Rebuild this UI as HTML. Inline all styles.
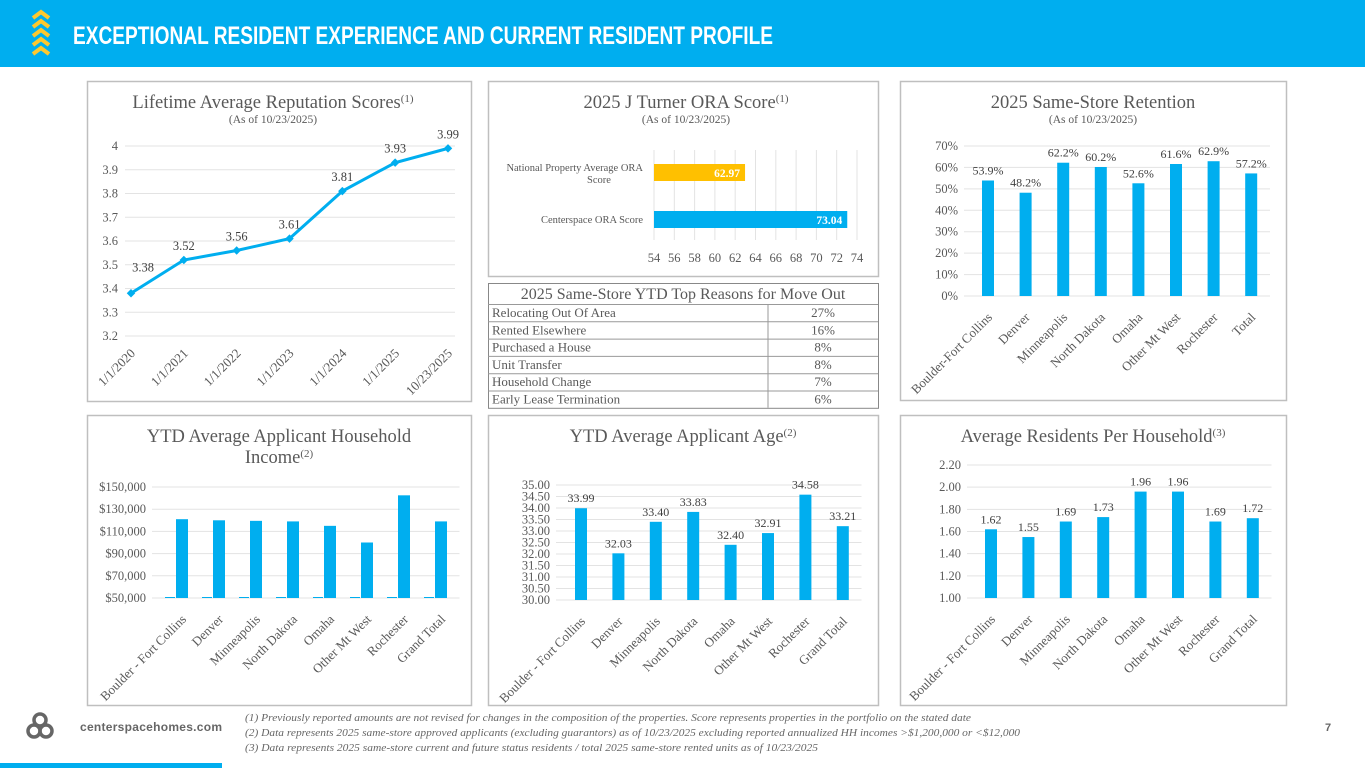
<!DOCTYPE html>
<html><head><meta charset="utf-8">
<style>
body{margin:0;width:1365px;height:768px;overflow:hidden;background:#fff;font-family:"Liberation Serif",serif;}
svg{position:absolute;left:0;top:0}
</style></head>
<body>
<svg id="s" width="1365" height="768" xmlns="http://www.w3.org/2000/svg" font-family="Liberation Serif, serif">
<rect x="0" y="0" width="1365" height="67" fill="#00AEEF"/>
<g fill="none" stroke="#FDC82F" stroke-width="4">
<polyline points="33,18 41,12 49,18"/><polyline points="33,27 41,21 49,27"/><polyline points="33,36 41,30 49,36"/><polyline points="33,45 41,39 49,45"/><polyline points="33,54 41,48 49,54"/>
</g>
<text x="73" y="44" fill="#fff" font-family="Liberation Sans, sans-serif" font-weight="bold" font-size="25" textLength="700" lengthAdjust="spacingAndGlyphs">EXCEPTIONAL RESIDENT EXPERIENCE AND CURRENT RESIDENT PROFILE</text>
<g id="panels"></g>
<g fill="none" stroke="#666" stroke-width="3.5">
<circle cx="40" cy="720" r="6"/><circle cx="34" cy="731" r="6"/><circle cx="46" cy="731" r="6"/>
</g>
<text x="80" y="731" font-family="Liberation Sans, sans-serif" font-weight="bold" font-size="12" fill="#666" textLength="142" lengthAdjust="spacing">centerspacehomes.com</text>
<g font-style="italic" font-size="10.5" fill="#666">
<text x="245" y="721" textLength="726" lengthAdjust="spacingAndGlyphs">(1) Previously reported amounts are not revised for changes in the composition of the properties. Score represents properties in the portfolio on the stated date</text>
<text x="245" y="736" textLength="775" lengthAdjust="spacingAndGlyphs">(2) Data represents 2025 same-store approved applicants (excluding guarantors) as of 10/23/2025 excluding reported annualized HH incomes &gt;$1,200,000 or &lt;$12,000</text>
<text x="245" y="751" textLength="573" lengthAdjust="spacingAndGlyphs">(3) Data represents 2025 same-store current and future status residents / total 2025 same-store rented units as of 10/23/2025</text>
</g>
<text x="1325" y="731" font-family="Liberation Sans, sans-serif" font-size="11" font-weight="bold" fill="#666">7</text>
<rect x="0" y="763" width="222" height="5" fill="#00AEEF"/>
</svg>
<script>
// ---- data ----
const repDates=["1/1/2020","1/1/2021","1/1/2022","1/1/2023","1/1/2024","1/1/2025","10/23/2025"];
const repScores=[3.38,3.52,3.56,3.61,3.81,3.93,3.99];
const repTicks=[3.2,3.3,3.4,3.5,3.6,3.7,3.8,3.9,4];
const oraCats=["National Property Average ORA Score","Centerspace ORA Score"];
const oraVals=[62.97,73.04];
const oraTicks=[54,56,58,60,62,64,66,68,70,72,74];
const retCats=["Boulder-Fort Collins","Denver","Minneapolis","North Dakota","Omaha","Other Mt West","Rochester","Total"];
const retVals=[53.9,48.2,62.2,60.2,52.6,61.6,62.9,57.2];
const retTicks=[0,10,20,30,40,50,60,70];
const incCats=["Boulder - Fort Collins","Denver","Minneapolis","North Dakota","Omaha","Other Mt West","Rochester","Grand Total"];
const incVals=[121000,120000,119500,119000,115000,100000,142500,119000];
const incTicks=[50000,70000,90000,110000,130000,150000];
const ageCats=["Boulder - Fort Collins","Denver","Minneapolis","North Dakota","Omaha","Other Mt West","Rochester","Grand Total"];
const ageVals=[33.99,32.03,33.40,33.83,32.40,32.91,34.58,33.21];
const ageTicks=[30,30.5,31,31.5,32,32.5,33,33.5,34,34.5,35];
const resCats=["Boulder - Fort Collins","Denver","Minneapolis","North Dakota","Omaha","Other Mt West","Rochester","Grand Total"];
const resVals=[1.62,1.55,1.69,1.73,1.96,1.96,1.69,1.72];
const resTicks=[1.0,1.2,1.4,1.6,1.8,2.0,2.2];
const moveReasons=["Relocating Out Of Area","Rented Elsewhere","Purchased a House","Unit Transfer","Household Change","Early Lease Termination"];
const movePcts=["27%","16%","8%","8%","7%","6%"];

const NS="http://www.w3.org/2000/svg";
const root=document.getElementById('panels');
function el(tag,attrs,parent,txt){const e=document.createElementNS(NS,tag);for(const k in attrs)e.setAttribute(k,attrs[k]);if(txt!==undefined)e.textContent=txt;(parent||root).appendChild(e);return e;}
const BLUE="#00AEEF",GRID="#e3e3e3",TXT="#595959";

function panel(name,x,y,w,h){
  const g=el('g',{});
  
  
  el('rect',{x:x+0.5,y:y+0.5,width:w,height:h,fill:'#fff',stroke:'#bfbfbf','stroke-width':1.5},g);
  return g;
}
function title(g,x,y,lines,sup,sub){
  lines.forEach((l,i)=>{
    const t=el('text',{x:x,y:y+i*21,'text-anchor':'middle','font-size':18.5,fill:TXT},g);
    
    
    t.appendChild(document.createTextNode(l));
    if(sup&&i===lines.length-1){el('tspan',{'font-size':11,dy:-6},t,sup);}
  });
  if(sub){const t=el('text',{x:x,y:y+15,'text-anchor':'middle','font-size':11.5,fill:TXT},g,sub);
    }
}
function rotLabels(g,cats,xf,y0){
  cats.forEach((c,i)=>{
    const x=xf(i)+5;
    const t=el('text',{x:x,y:y0,'text-anchor':'end','font-size':13,fill:TXT,transform:`rotate(-45 ${x} ${y0})`},g,c);
    
    
  });
}

// ---- Chart 1: line ----
(function(){
  const g=panel('reputation-chart',87,81,384,320);
  title(g,273,108,["Lifetime Average Reputation Scores"],"(1)","(As of 10/23/2025)");
  const x0=131,x1=448,yTop=146,yBot=336,vmin=3.2,vmax=4;
  const xs=i=>x0+i*(x1-x0)/(repDates.length-1);
  const ys=v=>yBot-(v-vmin)/(vmax-vmin)*(yBot-yTop);
  repTicks.forEach(t=>{
    el('line',{x1:125,x2:455,y1:ys(t),y2:ys(t),stroke:GRID},g);
    const tx=el('text',{x:118,y:ys(t)+4,'text-anchor':'end','font-size':12.5,fill:TXT},g,String(t));
    
  });
  const pts=repScores.map((v,i)=>xs(i)+','+ys(v)).join(' ');
  const pl=el('polyline',{points:pts,fill:'none',stroke:BLUE,'stroke-width':3},g);
  
  repScores.forEach((v,i)=>{
    const m=el('rect',{x:xs(i)-3,y:ys(v)-3,width:6,height:6,fill:BLUE,transform:`rotate(45 ${xs(i)} ${ys(v)})`},g);
    
    const dx=i===0?12:0, dy=i===0?-22:-10;
    const l=el('text',{x:xs(i)+dx,y:ys(v)+dy+(i===0?0:0),'text-anchor':'middle','font-size':12.5,fill:'#404040'},g,v.toFixed(2));
    
  });
  rotLabels(g,repDates,xs,354);
})();

// ---- Chart 2: horizontal bars ----
(function(){
  const g=panel('ora-score-chart',488,81,390,195);
  title(g,686,108,["2025 J Turner ORA Score"],"(1)","(As of 10/23/2025)");
  const xmin=54,xmax=74,px0=654,px1=857;
  const xs=v=>px0+(v-xmin)/(xmax-xmin)*(px1-px0);
  oraTicks.forEach(t=>{
    el('line',{x1:xs(t),x2:xs(t),y1:150,y2:240,stroke:GRID},g);
    const tx=el('text',{x:xs(t),y:262,'text-anchor':'middle','font-size':12.5,fill:TXT},g,String(t));
    
  });
  const ys=[164,211], cols=["#FFC000",BLUE];
  oraVals.forEach((v,i)=>{
    const b=el('rect',{x:px0,y:ys[i],width:xs(v)-px0,height:17,fill:cols[i]},g);
    
    const l=el('text',{x:xs(v)-5,y:ys[i]+13,'text-anchor':'end','font-size':11.5,'font-weight':'bold',fill:'#fff'},g,v.toFixed(2));
    
  });
  let t=el('text',{x:643,y:171,'text-anchor':'end','font-size':10.5,fill:TXT},g,"National Property Average ORA");
  
  t=el('text',{x:599,y:183,'text-anchor':'middle','font-size':10.5,fill:TXT},g,"Score");
  
  t=el('text',{x:643,y:223,'text-anchor':'end','font-size':10.5,fill:TXT},g,oraCats[1]);
  
})();

// ---- Table ----
(function(){
  const g=el('g',{});
  
  
  const x=488,y=283,w=390,hh=21,rh=17.3,split=768;
  el('rect',{x:x+0.5,y:y+0.5,width:w,height:hh+rh*moveReasons.length,fill:'#fff',stroke:'#888'},g);
  const h=el('text',{x:x+w/2,y:y+16,'text-anchor':'middle','font-size':16,fill:TXT},g,"2025 Same-Store YTD Top Reasons for Move Out");
  
  moveReasons.forEach((r,i)=>{
    const ry=y+hh+i*rh;
    el('line',{x1:x,x2:x+w,y1:ry+0.5,y2:ry+0.5,stroke:'#999'},g);
    const a=el('text',{x:x+4,y:ry+13,'font-size':13,fill:TXT},g,r);
    
    const b=el('text',{x:(split+x+w)/2,y:ry+13,'text-anchor':'middle','font-size':13,fill:TXT},g,movePcts[i]);
    
  });
  el('line',{x1:split,x2:split,y1:y+hh,y2:y+hh+rh*moveReasons.length,stroke:'#999'},g);
})();

// ---- generic vertical bar chart ----
function barChart(name,px,py,pw,ph,titleLines,sup,sub,cats,vals,ticks,vmin,vmax,yTop,yBot,xFirst,step,tickFmt,valFmt,showVals,zeroBars,tickX,labelY){
  const g=panel(name,px,py,pw,ph);
  title(g,px+pw/2,py+27,titleLines,sup,sub);
  const ys=v=>yBot-(v-vmin)/(vmax-vmin)*(yBot-yTop);
  const xs=i=>xFirst+i*step;
  ticks.forEach(t=>{
    el('line',{x1:tickX+6,x2:xs(cats.length-1)+step/2,y1:ys(t),y2:ys(t),stroke:GRID},g);
    const tx=el('text',{x:tickX,y:ys(t)+4,'text-anchor':'end','font-size':12.5,fill:TXT},g,tickFmt(t));
    
  });
  vals.forEach((v,i)=>{
    if(zeroBars){el('rect',{x:xs(i)-17,y:yBot-1,width:10,height:1,fill:BLUE},g);}
    const b=el('rect',{x:xs(i)-6,y:ys(v),width:12,height:yBot-ys(v),fill:BLUE},g);
    
    if(showVals){
      const l=el('text',{x:xs(i),y:ys(v)-6,'text-anchor':'middle','font-size':12,fill:'#404040'},g,valFmt(v));
      
    }
  });
  rotLabels(g,cats,xs,labelY);
}
barChart('retention-chart',900,81,386,319,["2025 Same-Store Retention"],"",  "(As of 10/23/2025)",retCats,retVals,retTicks,0,70,146,296,988,37.6,t=>t+'%',v=>v.toFixed(1)+'%',true,false,958,318);
barChart('income-chart',87,415,384,290,["YTD Average Applicant Household","Income"],"(2)",null,incCats,incVals,incTicks,50000,150000,487,598,182,37,t=>'$'+t.toLocaleString('en-US'),null,false,true,146,620);
barChart('age-chart',488,415,390,290,["YTD Average Applicant Age"],"(2)",null,ageCats,ageVals,ageTicks,30,35,485,600,581,37.4,t=>t.toFixed(2),v=>v.toFixed(2),true,false,550,622);
barChart('residents-chart',900,415,386,290,["Average Residents Per Household"],"(3)",null,resCats,resVals,resTicks,1.0,2.2,465,598,991,37.4,t=>t.toFixed(2),v=>v.toFixed(2),true,false,961,620);
</script>
</body></html>
